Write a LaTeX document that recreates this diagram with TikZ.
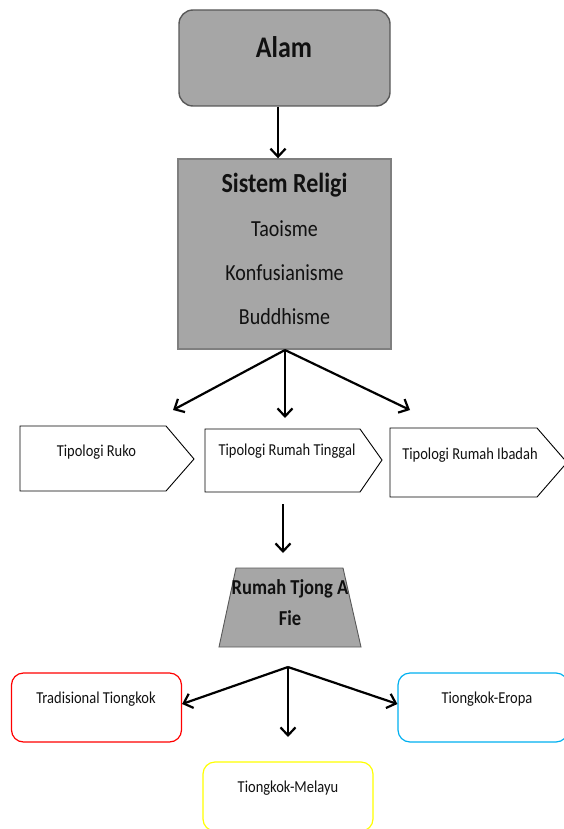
\documentclass[tikz,border=0pt]{standalone}
\usepackage{fontspec}
\setmainfont{Carlito}
\usetikzlibrary{arrows.meta}
\definecolor{boxgray}{HTML}{A6A6A6}
\definecolor{darkline}{HTML}{595959}
\definecolor{midline}{HTML}{7F7F7F}
\definecolor{cyanline}{HTML}{00B0F0}
\definecolor{yelline}{HTML}{FFFF00}
\definecolor{txt}{HTML}{111111}
\newcommand{\talltext}[1]{\scalebox{1}[1.15]{#1}}
\begin{document}
\begin{tikzpicture}[x=1pt,y=-1pt,
  conn/.style={line width=2.2pt,-{Straight Barb[length=8pt,width=15pt,line width=2.2pt]}},
  graybox/.style={draw=midline,fill=boxgray,line width=1.4pt,inner sep=0pt},
  lbl/.style={text=txt,inner sep=0pt,font=\fontsize{14.5}{17}\selectfont},
  biglbl/.style={text=txt,inner sep=0pt,font=\fontsize{20}{24}\selectfont},
  pent/.style={draw=black,line width=0.9pt,fill=white},
  outbox/.style={draw,line width=1.2pt,rounded corners=12pt,fill=white,minimum width=170pt,minimum height=69pt,inner sep=0pt}
]
\useasboundingbox (0,0) rectangle (564,829);
\clip (0,0) rectangle (564,829);
% Alam
\node[graybox,draw=darkline,rounded corners=14pt,minimum width=211pt,minimum height=96pt] (alam) at (284.5,58) {};
\node[text=txt,inner sep=0pt,font=\fontsize{26}{30}\selectfont\bfseries] (alamtxt) at (284,47) {\talltext{Alam}};
% Sistem Religi
\node[graybox,minimum width=213pt,minimum height=190pt] (religi) at (284.5,254) {};
\node[text=txt,inner sep=0pt,font=\fontsize{24}{28}\selectfont\bfseries] (religititle) at (284.5,185) {\talltext{Sistem Religi}};
\node[biglbl] (tao) at (284.5,229) {\talltext{Taoisme}};
\node[biglbl] (konf) at (284.5,273) {\talltext{Konfusianisme}};
\node[biglbl] (budd) at (284.5,317) {\talltext{Buddhisme}};
\draw[conn] ([xshift=-6.5pt]alam.south) -- ([xshift=-6.5pt]religi.north);
% Tipologi shapes
\path[pent] (20,426) -- (166,426) -- (194,459) -- (166,491) -- (20,491) -- cycle;
\path[pent] (205,429) -- (360,429) -- (382,460) -- (360,492) -- (205,492) -- cycle;
\path[pent] (390,428) -- (537,428) -- (567,462.5) -- (537,497) -- (390,497) -- cycle;
\node[lbl] (ruko) at (96.5,452) {\talltext{Tipologi Ruko}};
\node[lbl] (tinggal) at (287,451) {\talltext{Tipologi Rumah Tinggal}};
\node[lbl] (ibadah) at (470,455) {\talltext{Tipologi Rumah Ibadah}};
\coordinate (split1) at (285,350);
\coordinate (endruko) at (173,410);
\coordinate (endtinggal) at (285,418);
\coordinate (endibadah) at (410,410);
\draw[conn] (split1) -- (endruko);
\draw[conn] (split1) -- (endtinggal);
\draw[conn] (split1) -- (endibadah);
% Trapezoid
\path[draw=darkline,fill=boxgray,line width=0.9pt] (236,568) -- (343,568) -- (361,647) -- (219,647) -- cycle;
\node[text=txt,inner sep=0pt,font=\fontsize{18.5}{22}\selectfont\bfseries] (tjong1) at (290,589) {\talltext{Rumah Tjong A}};
\node[text=txt,inner sep=0pt,font=\fontsize{18.5}{22}\selectfont\bfseries] (tjong2) at (290,618) {\talltext{Fie}};
\coordinate (trapstart) at (283,504);
\coordinate (trapend) at (283,553);
\draw[conn] (trapstart) -- (trapend);
% Bottom boxes
\node[outbox,draw=red] (trad) at (96.5,707.5) {};
\node[outbox,draw=cyanline] (eropa) at (483,707.5) {};
\node[outbox,draw=yelline] (melayu) at (288,796.5) {};
\node[lbl] (tradtxt) at (96,699) {\talltext{Tradisional Tiongkok}};
\node[lbl] (eropatxt) at (487,699) {\talltext{Tiongkok-Eropa}};
\node[lbl] (melayutxt) at (288,788) {\talltext{Tiongkok-Melayu}};
\coordinate (split2) at (288,667);
\draw[conn] (split2) -- (trad.east |- 0,704);
\draw[conn] (split2) -- (288,737);
\draw[conn] (split2) -- (eropa.west |- 0,704);
\end{tikzpicture}
\end{document}
